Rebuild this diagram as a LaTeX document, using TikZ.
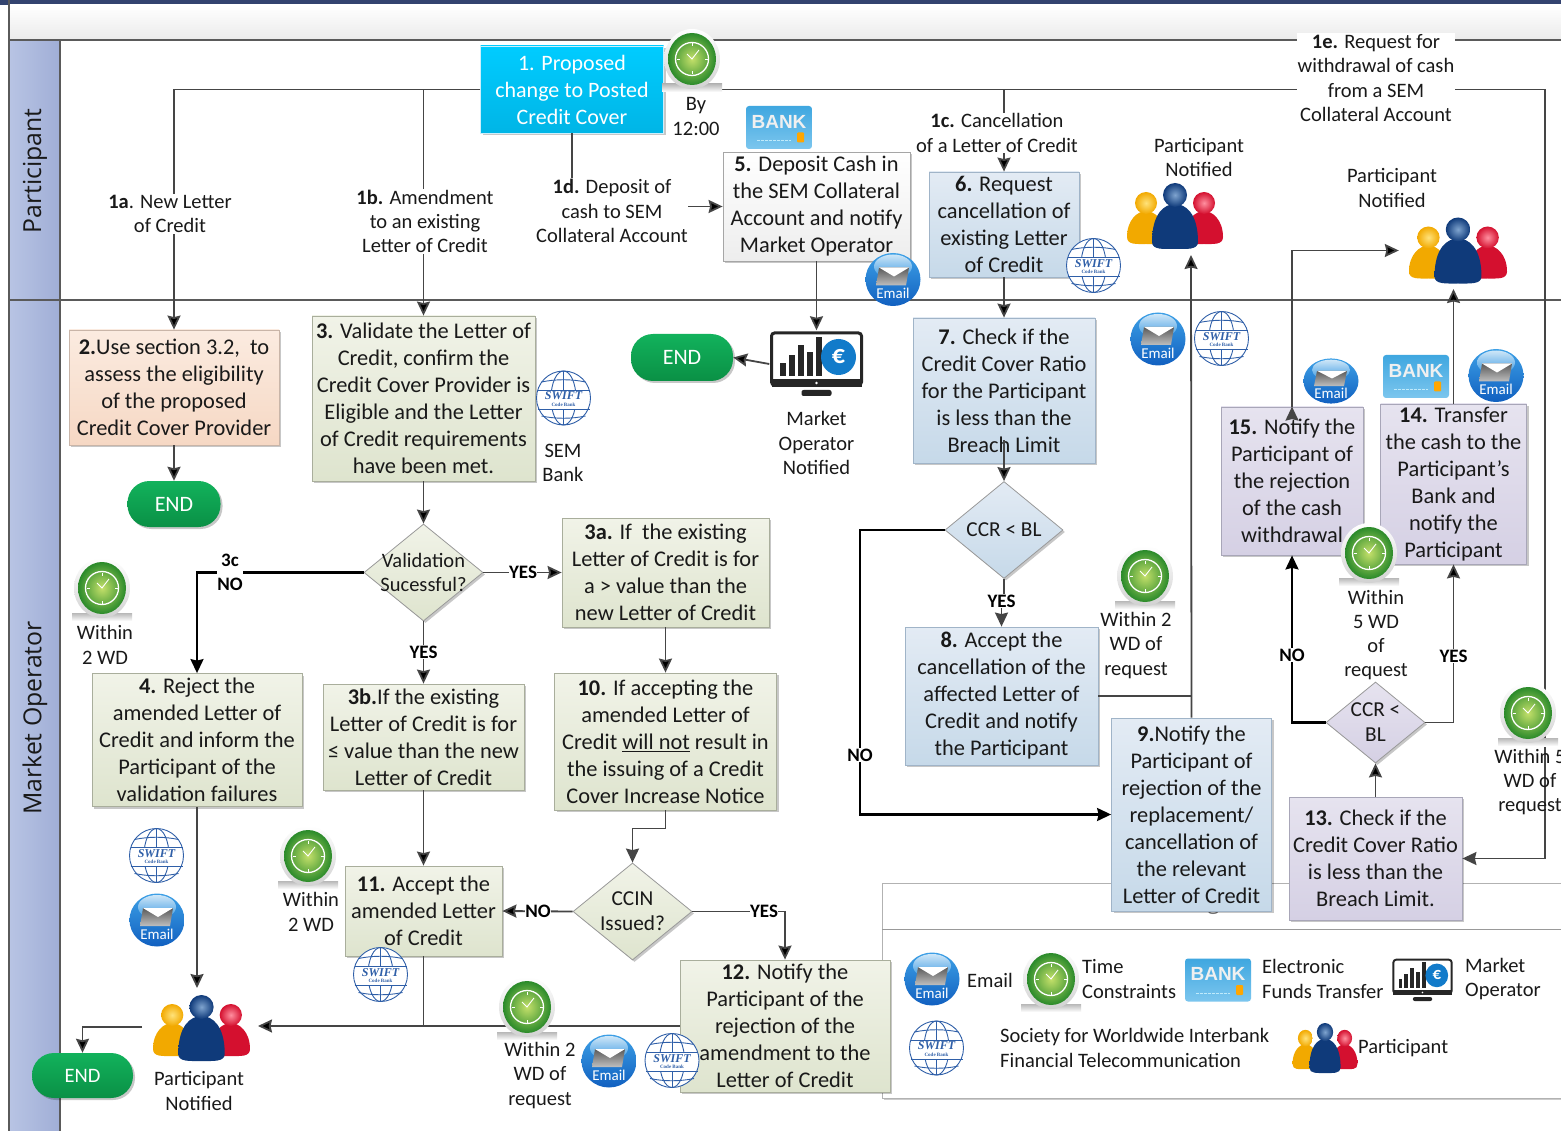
\documentclass[tikz,border=0pt]{standalone}
\usepackage{fontspec}
\setmainfont{Carlito}
\newfontfamily\lanefont{Open Sans}
\newfontfamily\swiftfont{Liberation Serif}
\newfontfamily\bankfont{Liberation Sans}
\usetikzlibrary{arrows.meta}
\usetikzlibrary{positioning}
\usetikzlibrary{shapes.geometric,shadows,calc}

\definecolor{linegrey}{HTML}{454545}
\definecolor{framegrey}{HTML}{5A5A5A}
\definecolor{swiftblue}{HTML}{2F5FA8}
\definecolor{greentop}{HTML}{F1F3E8}
\definecolor{greenbot}{HTML}{DEE4CE}
\definecolor{greenedge}{HTML}{A9AE9C}
\definecolor{bluetop}{HTML}{E3EBF4}
\definecolor{bluebot}{HTML}{C6D9E9}
\definecolor{blueedge}{HTML}{A0B4C8}
\definecolor{lilactop}{HTML}{E6E3EF}
\definecolor{lilacbot}{HTML}{D5D0E4}
\definecolor{lilacedge}{HTML}{A8A6B8}
\definecolor{peachtop}{HTML}{FBEBE0}
\definecolor{peachbot}{HTML}{F6D8C4}
\definecolor{peachedge}{HTML}{C9B5A8}
\definecolor{cyantop}{HTML}{00CCFF}
\definecolor{cyanbot}{HTML}{00B5E6}
\definecolor{endtop}{HTML}{12B25C}
\definecolor{endbot}{HTML}{0A9045}
\definecolor{lanelight}{HTML}{B8C4E4}
\definecolor{lanedark}{HTML}{A0AED6}
\definecolor{barnavy}{HTML}{33436F}
\definecolor{clockdark}{HTML}{2A8A2A}
\definecolor{clocklight}{HTML}{C4E06A}
\definecolor{mailtop}{HTML}{3DA0E6}
\definecolor{mailbot}{HTML}{1160C0}
\definecolor{banktop}{HTML}{3FA7E0}
\definecolor{bankbot}{HTML}{7CC6EE}
\definecolor{goldlight}{HTML}{FFE27A}
\definecolor{golddark}{HTML}{F2A900}
\definecolor{redlight}{HTML}{FF8F9F}
\definecolor{reddark}{HTML}{D4102F}
\definecolor{navylight}{HTML}{7FA4CF}
\definecolor{navydark}{HTML}{0F3A7A}

\newcommand{\personfig}[8]{%
  \shade[top color=#8,middle color=#7,bottom color=#8]
    ({#1-#2},{#4-7}) .. controls ({#1-#2},{#3+9}) and ({#1-0.45*#2},#3) .. (#1,#3)
    .. controls ({#1+0.45*#2},#3) and ({#1+#2},{#3+9}) .. ({#1+#2},{#4-7})
    .. controls ({#1+#2},{#4+1}) and ({#1+0.5*#2},#4) .. (#1,#4)
    .. controls ({#1-0.5*#2},#4) and ({#1-#2},{#4+1}) .. cycle;
  \shade[inner color=#7,outer color=#8] (#1,#5) circle (#6);
}

\tikzset{
    stepbox/.style={
           rectangle,
           draw,
           line width=0.8pt,
           inner sep=0pt,
           align=center,
           text=black!90,
           font=\fontsize{22.4}{27}\selectfont,
           drop shadow={shadow xshift=2pt,shadow yshift=-2pt,opacity=.22,fill=black},
           },
    greenbox/.style={stepbox,draw=greenedge,top color=greentop,bottom color=greenbot},
    bluebox/.style={stepbox,draw=blueedge,top color=bluetop,bottom color=bluebot},
    lilacbox/.style={stepbox,draw=lilacedge,top color=lilactop,bottom color=lilacbot},
    peachbox/.style={stepbox,draw=peachedge,top color=peachtop,bottom color=peachbot},
    greybox/.style={stepbox,draw=black!35,top color=white,bottom color=black!7},
    checkbox/.style={
           diamond,
           aspect=1.2,
           draw=gray!80,
           line width=0.8pt,
           inner sep=-7pt,
           align=center,
           text=black!90,
           font=\fontsize{21.3}{25}\selectfont,
           drop shadow={shadow xshift=2pt,shadow yshift=-2pt,opacity=.22,fill=black},
           },
    endbox/.style={
           rectangle,
           rounded corners=22pt,
           inner sep=0pt,
           text=white,
           font=\fontsize{22}{27}\selectfont,
           top color=endtop,
           bottom color=endbot,
           drop shadow={shadow xshift=2pt,shadow yshift=-2pt,opacity=.22,fill=black},
           },
    note/.style={align=center,inner sep=0pt,text=black!90,font=\fontsize{20.5}{24.3}\selectfont},
    gapnote/.style={note,fill=white,inner ysep=1pt},
    answer/.style={gapnote,font=\bfseries\fontsize{19}{24}\selectfont,text=black},
    legendnote/.style={note,anchor=west,align=left},
    lane/.style={-,draw=framegrey,line width=1.5pt},
    flow/.style={draw=linegrey,line width=1.8pt},
    strongflow/.style={draw=black,line width=2.2pt},
    hv/.style={to path={-| (\tikztotarget)}},
    vh/.style={to path={|- (\tikztotarget)}},
    clockicon/.style={
           inner sep=0pt,
           minimum width=62pt,
           minimum height=64pt,
           path picture={
             \begin{scope}[-,shift={(path picture bounding box.center)}]
               \shade[top color=black!28,bottom color=white] (-30,23) rectangle (30,31);
               \shade[top color=white,bottom color=black!18] (0,-2) ellipse (28 and 30);
               \shade[inner color=clocklight,outer color=clockdark] (0,-2) ellipse (24 and 26);
               \draw[white,line width=1.3pt] (0,-2) circle (16.5);
               \foreach \ang in {0,90,180,270}
                 \draw[white,line width=0.9pt] ($(0,-2)+(\ang:15.5)$) -- ($(0,-2)+(\ang:12.5)$);
               \draw[white,line width=0.9pt] (-5,-7) -- (0,-2) -- (7,-11);
             \end{scope}}
           },
    swifticon/.style={
           inner sep=0pt,
           minimum width=56pt,
           minimum height=56pt,
           path picture={
             \begin{scope}[-,shift={(path picture bounding box.center)},draw=swiftblue,line width=0.9pt]
               \draw[fill=white] (0,0) circle (27);
               \draw (0,0) ellipse (12.5 and 27);
               \draw (0,-27) -- (0,27);
               \draw (-22,-16) .. controls (-8,-19) and (8,-19) .. (22,-16);
               \draw (-22,18) .. controls (-8,21) and (8,21) .. (22,18);
               \fill[white] (-21,-8) rectangle (21,11);
               \draw (-26,-8) -- (26,-8);
               \draw (-26,11) -- (26,11);
               \node[inner sep=0pt,text=swiftblue,font=\swiftfont\bfseries\itshape\fontsize{12}{12}\selectfont] (swifttext) at (0,-2) {SWIFT};
               \node[inner sep=0pt,text=swiftblue,font=\swiftfont\bfseries\fontsize{5}{5}\selectfont] (swiftcode) at (0,6.5) {Code Bank};
             \end{scope}}
           },
    mailicon/.style 2 args={
           inner sep=0pt,
           minimum width=#1pt,
           minimum height=#2pt,
           path picture={
             \begin{scope}[-,shift={(path picture bounding box.center)},x=#1/56*1pt,y=-#2/54*1pt]
               \shade[top color=mailtop,bottom color=mailbot] (0,0) ellipse (27.5 and 26.5);
               \shade[top color=white,bottom color=mailtop,opacity=.75] (0,-13) ellipse (19 and 12);
               \shade[top color=black!65,bottom color=black!25] (-14,-12) -- (16,-12) -- (13,6) -- (-17,6) -- cycle;
               \fill[white] (-14,-12) -- (16,-12) -- (1,-3) -- cycle;
               \node[inner sep=0pt,text=white,font=\fontsize{15}{15}\selectfont] (mailtext) at (0,14) {Email};
             \end{scope}}
           },
    bankicon/.style 2 args={
           inner sep=0pt,
           minimum width=#1pt,
           minimum height=#2pt,
           path picture={
             \begin{scope}[-,shift={(path picture bounding box.center)},x=#1/66*1pt,y=-#2/43*1pt]
               \shade[rounded corners=3pt,top color=banktop,bottom color=bankbot] (-33,-21.5) rectangle (33,21.5);
               \node[inner sep=0pt,text=white!88!gray,font=\bankfont\bfseries\fontsize{19}{19}\selectfont] (banktext) at (0,-6) {BANK};
               \draw[white!75!cyan,line width=1pt,dash pattern=on 3pt off 1pt] (-22,13) -- (12,13);
               \fill[orange!70!yellow,rounded corners=1pt] (18,5) rectangle (25,15);
             \end{scope}}
           },
    screenicon/.style 2 args={
           inner sep=0pt,
           minimum width=#1pt,
           minimum height=#2pt,
           path picture={
             \begin{scope}[-,shift={(path picture bounding box.center)},x=#1/94*1pt,y=-#2/67*1pt]
               \draw[black!85,line width=#1/94*3pt,rounded corners=3pt,fill=white] (-45,-31) rectangle (45,21);
               \fill[black!85] (-45,15) rectangle (45,23);
               \fill[white] (0,19) circle (1.3);
               \fill[black!85,rounded corners=2pt] (-15,26) rectangle (15,32);
               \foreach \bx/\bh in {-37/13,-28/21,-19/31,-10/24,-1/39}
                 \fill[black!85] (\bx,12) rectangle ++(6,-\bh);
               \fill[cyan!60!blue] (22,-7) ellipse (17.5 and 18);
               \node[inner sep=0pt,text=white,scale=#1/94,font=\bfseries\fontsize{26}{26}\selectfont] (screentext) at (22,-7) {€};
             \end{scope}}
           },
    peopleicon/.style 2 args={
           inner sep=0pt,
           minimum width=#1pt,
           minimum height=#2pt,
           path picture={
             \begin{scope}[-,shift={(path picture bounding box.center)},x=#1/96*1pt,y=-#2/66*1pt]
               \personfig{-29}{19}{-5}{28}{-13}{11}{goldlight}{golddark}
               \personfig{29}{19}{-5}{28}{-13}{11}{redlight}{reddark}
               \personfig{0}{23}{-12}{33}{-21}{12}{navylight}{navydark}
             \end{scope}}
           },
}

\begin{document}
\begin{tikzpicture}[->,>={Stealth[length=14pt,width=13pt,inset=1.5pt]},x=1pt,y=-1pt]
 \useasboundingbox (0,0) rectangle (1561,1131);
 % swimlanes
 \fill[barnavy] (0,0) rectangle (1561,5);
 \shade[top color=white,bottom color=black!8] (9,5) rectangle (1561,40);
 \shade[left color=lanelight,right color=lanedark] (9,40) rectangle (60,1131);
 \draw[lane] (9,40) -- (1561,40);
 \draw[lane] (9,300) -- (1561,300);
 \draw[lane] (9,0) -- (9,1131);
 \draw[lane] (60,40) -- (60,1131);
 \node[note,rotate=90,font=\lanefont\fontsize{24.8}{28}\selectfont] (LANEP) at (35,171) {Participant};
 \node[note,rotate=90,font=\lanefont\fontsize{24.8}{28}\selectfont] (LANEM) at (35,718) {Market Operator};

 % legend behind the boxes
 \draw[-,draw=black!30,line width=1pt,fill=white,drop shadow={shadow xshift=2pt,shadow yshift=-2pt,opacity=.2,fill=black}] (882,883) rectangle (1580,1098);
 \draw[-,draw=black!40,line width=1pt] (882,929) -- (1580,929);
 \node[note,font=\lanefont\fontsize{21}{25}\selectfont,text=black!55] (LEGEND) at (1226,904) {Legends};

 \node[stepbox,
 text=white,
 font=\fontsize{22}{27}\selectfont,
 draw=white!80!cyan,
 top color=cyantop,
 bottom color=cyanbot,
 minimum width=183pt,
 minimum height=87pt] (S1) at (572,89.5)
 {1. Proposed\\change to Posted\\Credit Cover};
 \node[peachbox,
 minimum width=210pt,
 minimum height=115pt] (S2) at (174,387.5)
 {\textbf{2.}Use section 3.2,\ \ to\\assess the eligibility\\of the proposed\\Credit Cover Provider};
 \node[endbox,
 below of=S2,
 node distance=116.5pt,
 minimum width=93pt,
 minimum height=46pt] (ENDA) {END};
 \node[greenbox,
 minimum width=223pt,
 minimum height=165pt] (S3) at (423.5,398.5)
 {\textbf{3.} Validate the Letter of\\Credit, confirm the\\Credit Cover Provider is\\Eligible and the Letter\\of Credit requirements\\have been met.};
 \node[checkbox,
 top color=greentop,
 bottom color=greenbot,
 font=\fontsize{20.5}{24}\selectfont,
 below of=S3,
 node distance=174pt,
 minimum width=119pt,
 minimum height=97pt] (VAL) {Validation\\Sucessful?};
 \node[greenbox,
 below of=VAL,
 node distance=164.5pt,
 minimum width=201pt,
 minimum height=106pt] (S3B)
 {\textbf{3b.}If the existing\\Letter of Credit is for\\≤ value than the new\\Letter of Credit};
 \node[greenbox,
 below of=S3B,
 node distance=174pt,
 minimum width=157pt,
 minimum height=90pt] (S11)
 {\textbf{11.} Accept the\\amended Letter\\of Credit};
 \node[greenbox,
 minimum width=207pt,
 minimum height=109pt] (S3A) at (665.5,572.5)
 {\textbf{3a.} If\ \ the existing\\Letter of Credit is for\\a > value than the\\new Letter of Credit};
 \node[greenbox,
 below of=S3A,
 node distance=169pt,
 minimum width=222pt,
 minimum height=137pt] (S10)
 {\textbf{10.} If accepting the\\amended Letter of\\Credit \underline{will not} result in\\the issuing of a Credit\\Cover Increase Notice};
 \node[checkbox,
 top color=greentop,
 bottom color=greenbot,
 minimum width=119pt,
 minimum height=97pt] (CCIN) at (632.5,911.5) {CCIN\\Issued?};
 \node[greenbox,
 minimum width=210pt,
 minimum height=132pt] (S12) at (785,1026)
 {\textbf{12.} Notify the\\Participant of the\\rejection of the\\amendment to the\\Letter of Credit};
 \node[greenbox,
 minimum width=210pt,
 minimum height=133pt] (S4) at (197,740)
 {\textbf{4.} Reject the\\amended Letter of\\Credit and inform the\\Participant of the\\validation failures};
 \node[greybox,
 minimum width=187pt,
 minimum height=109pt] (S5) at (816.5,206.5)
 {\textbf{5.} Deposit Cash in\\the SEM Collateral\\Account and notify\\Market Operator};
 \node[bluebox,
 minimum width=150pt,
 minimum height=105pt] (S6) at (1004,224.5)
 {\textbf{6.} Request\\cancellation of\\existing Letter\\of Credit};
 \node[bluebox,
 below of=S6,
 node distance=166pt,
 minimum width=182pt,
 minimum height=145pt] (S7)
 {\textbf{7.} Check if the\\Credit Cover Ratio\\for the Participant\\is less than the\\Breach Limit};
 \node[checkbox,
 top color=bluetop,
 bottom color=bluebot,
 below of=S7,
 node distance=139.5pt,
 minimum width=118pt,
 minimum height=97pt] (CCR) {CCR < BL};
 \node[bluebox,
 minimum width=193pt,
 minimum height=138pt] (S8) at (1001.5,696)
 {\textbf{8.} Accept the\\cancellation of the\\affected Letter of\\Credit and notify\\the Participant};
 \node[bluebox,
 minimum width=160pt,
 minimum height=193pt] (S9) at (1191.5,814.5)
 {\textbf{9.}Notify the\\Participant of\\rejection of the\\replacement/\\cancellation of\\the relevant\\Letter of Credit};
 \node[lilacbox,
 minimum width=173pt,
 minimum height=123pt] (S13) at (1375.5,858.5)
 {\textbf{13.} Check if the\\Credit Cover Ratio\\is less than the\\Breach Limit.};
 \node[checkbox,
 top color=lilactop,
 bottom color=lilacbot,
 above of=S13,
 node distance=136pt,
 minimum width=99pt,
 minimum height=81pt] (CCRB) {CCR <\\BL};
 \node[lilacbox,
 minimum width=142pt,
 minimum height=148pt] (S15) at (1292,481)
 {\textbf{15.} Notify the\\Participant of\\the rejection\\of the cash\\withdrawal};
 \node[lilacbox,
 minimum width=146pt,
 minimum height=160pt] (S14) at (1453.5,484)
 {\textbf{14.} Transfer\\the cash to the\\Participant’s\\Bank and\\notify the\\Participant};
 \node[endbox,
 minimum width=102pt,
 minimum height=47pt] (ENDB) at (682,357.5) {END};
 \node[endbox,
 minimum width=101pt,
 minimum height=45pt,
 font=\fontsize{20.5}{25}\selectfont] (ENDC) at (82.5,1075.5) {END};

 \node[screenicon={94}{67}] (MO) at (816.5,364) {};
 \node[peopleicon={96}{66}] (PA) at (1175,216) {};
 \node[peopleicon={98}{66}] (PB) at (1458,250.5) {};
 \node[peopleicon={97}{66}] (PC) at (201.5,1028) {};

 \coordinate (TURNE) at (1545,89.5);
 \coordinate (BREACH) at (1004,440);
 \coordinate (YESCCR) at (1001.5,601);
 \coordinate (TURNCCR) at (860,530);
 \coordinate (INTOA) at (1191,255);
 \coordinate (INTOB) at (1453.5,289);
 \coordinate (INTOC) at (197,988);
 \coordinate (BACKC) at (258,1026);
 \coordinate (OUTC) at (142,1027);

 % draw the paths, the labels come later and cover them
 \path[flow]
  (S1.west) edge[hv] (S2.north)
  (S1.west) edge[hv] (S3.north)
  (S1.south) edge[vh] (S5.west)
  (S1.east) edge[hv] (S6.north)
  (S5.south) edge (MO.north)
  (MO.west) edge (ENDB.east)
  (S2.south) edge (ENDA.north)
  (S3.south) edge (VAL.north)
  (VAL.east) edge (S3A.west)
  (VAL.south) edge (S3B.north)
  (S3B.south) edge (S11.north)
  (S3A.south) edge (S10.north)
  (CCIN.west) edge (S11.east)
  (CCIN.east) edge[hv] (S12.north)
  (S6.south) edge (S7.north)
  (BREACH) edge (CCR.north)
  (S4.south) edge (INTOC)
  (S12.west) edge (BACKC)
  (OUTC) edge[hv] (ENDC.north)
  (S13.north) edge (CCRB.south)
  (CCRB.east) edge[hv] (S14.south)
  (S14.north) edge (INTOB)
  (S9.north) edge (INTOA)
  (S15.north) edge[vh,shorten >=10pt] (PB.west)
 ;
 \draw[flow] (S1.east) -- (TURNE) |- (S13.east);
 \draw[flow] (S10.south) -- ++(0,18) -| (CCIN.north);
 \draw[flow] (CCR.south) |- (YESCCR) -- (S8.north);
 \draw[flow,-] (S11.south) -- (S11.south |- S12.west);
 \draw[flow,-] (S8.east) -- (S8.east -| INTOA);
 \draw[strongflow] (VAL.west) -| (S4.north);
 \draw[strongflow] (CCR.west) -- (TURNCCR) |- (S9.west);
 \draw[strongflow] (CCRB.west) -| (S15.south);

 % labels
 \node[gapnote] (L1A) at (170,214) {\textbf{1a}. New Letter\\of Credit};
 \node[gapnote] (L1B) at (425,221.5) {\textbf{1b.} Amendment\\to an existing\\Letter of Credit};
 \node[gapnote] (L1D) at (612,211) {\textbf{1d.} Deposit of\\cash to SEM\\Collateral Account};
 \node[gapnote] (L1C) at (997,133) {\textbf{1c.} Cancellation\\of a Letter of Credit};
 \node[gapnote,inner xsep=1pt] (L1E) at (1376,78) {\textbf{1e.} Request for\\withdrawal of cash\\from a SEM\\Collateral Account};
 \node[note] (LBY) at (696,116.5) {By\\12:00};
 \node[note] (LPA) at (1199,157.5) {Participant\\Notified};
 \node[note] (LPB) at (1392,188) {Participant\\Notified};
 \node[note] (LMO) at (816.5,443) {Market\\Operator\\Notified};
 \node[note] (LSEM) at (563,463) {SEM\\Bank};
 \node[note] (LWA) at (105,645) {Within\\2 WD};
 \node[note] (LWB) at (311,912) {Within\\2 WD};
 \node[note] (LWC) at (540,1075.5) {Within 2\\WD of\\request};
 \node[note] (LWD) at (1136,645.5) {Within 2\\WD of\\request};
 \node[note] (LWE) at (1376,635) {Within\\5 WD\\of\\request};
 \node[note] (LWF) at (1530,782) {Within 5\\WD of\\request};
 \node[note] (LPC) at (199,1091) {Participant\\Notified};
 \node[answer] (ANOA) at (230,572) {3c\\NO};
 \node[answer] (AYESA) at (523,572) {YES};
 \node[answer] (AYESB) at (423.5,652) {YES};
 \node[answer] (ANOB) at (538,911) {NO};
 \node[answer] (AYESC) at (764,911) {YES};
 \node[answer] (AYESD) at (1001.5,601) {YES};
 \node[answer] (ANOC) at (860,755) {NO};
 \node[answer] (ANOD) at (1292,655) {NO};
 \node[answer] (AYESE) at (1453.5,656) {YES};

 % icons
 \node[clockicon] (TA) at (692,61) {};
 \node[clockicon] (TB) at (102,590) {};
 \node[clockicon] (TC) at (308,858) {};
 \node[clockicon] (TD) at (527,1009) {};
 \node[clockicon] (TE) at (1145,578) {};
 \node[clockicon] (TF) at (1369,555) {};
 \node[clockicon] (TG) at (1528,715) {};
 \node[bankicon={66}{43}] (BA) at (779,127.5) {};
 \node[bankicon={66}{43}] (BB) at (1416,376.5) {};
 \node[mailicon={56}{54}] (MA) at (893,279.5) {};
 \node[mailicon={56}{54}] (MB) at (1158,339) {};
 \node[mailicon={56}{46}] (MC) at (1331,381) {};
 \node[mailicon={56}{54}] (MD) at (1496,375.5) {};
 \node[mailicon={56}{54}] (ME) at (157,920) {};
 \node[mailicon={56}{54}] (MF) at (609,1061) {};
 \node[swifticon] (WA) at (1093.5,265.5) {};
 \node[swifticon] (WB) at (1221.5,338.5) {};
 \node[swifticon] (WC) at (563.5,398) {};
 \node[swifticon] (WD) at (156.5,855.5) {};
 \node[swifticon] (WE) at (380.5,974.5) {};
 \node[swifticon] (WF) at (672,1060.5) {};

 % legend entries
 \node[mailicon={56}{54}] (KMAIL) at (932,979) {};
 \node[note] (KMAILT) at (990,980) {Email};
 \node[clockicon] (KTIME) at (1051,981) {};
 \node[legendnote] (KTIMET) at (1082,979) {Time\\Constraints};
 \node[bankicon={66}{43}] (KBANK) at (1218,980) {};
 \node[legendnote] (KBANKT) at (1262,979) {Electronic\\Funds Transfer};
 \node[screenicon={61}{44}] (KMO) at (1422.5,980) {};
 \node[legendnote] (KMOT) at (1465,979) {Market\\Operator};
 \node[swifticon] (KSWIFT) at (936.5,1048) {};
 \node[legendnote] (KSWIFTT) at (1000,1048) {Society for Worldwide Interbank\\Financial Telecommunication};
 \node[peopleicon={65}{50}] (KPEOPLE) at (1325,1048) {};
 \node[legendnote] (KPEOPLET) at (1358,1048) {Participant};
\end{tikzpicture}
\end{document}
